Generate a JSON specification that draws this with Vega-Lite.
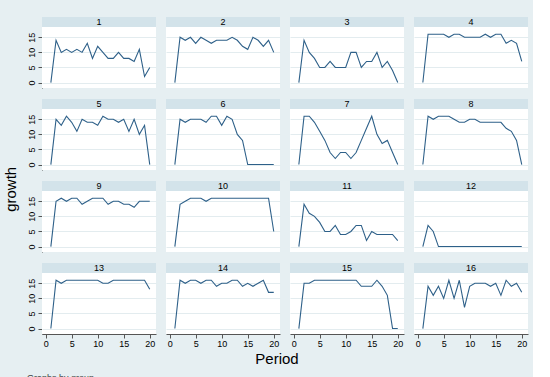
{
  "$schema": "https://vega.github.io/schema/vega-lite/v6.json",
  "background": "#e6eff2",
  "padding": {"left": 3, "top": 16, "right": 5, "bottom": 5},
  "title": {"text": "growth", "orient": "left", "anchor": "middle", "fontSize": 15, "font": "Liberation Sans", "fontWeight": "normal", "color": "#000000", "offset": 8, "dx": 10},
  "data": {"values": [
{"p":1,"t":1,"g":0},{"p":1,"t":2,"g":14},{"p":1,"t":3,"g":10},{"p":1,"t":4,"g":11},{"p":1,"t":5,"g":10},{"p":1,"t":6,"g":11},{"p":1,"t":7,"g":10},{"p":1,"t":8,"g":13},{"p":1,"t":9,"g":8},{"p":1,"t":10,"g":12},{"p":1,"t":11,"g":10},{"p":1,"t":12,"g":8},{"p":1,"t":13,"g":8},{"p":1,"t":14,"g":10},{"p":1,"t":15,"g":8},{"p":1,"t":16,"g":8},{"p":1,"t":17,"g":7},{"p":1,"t":18,"g":11},{"p":1,"t":19,"g":2},{"p":1,"t":20,"g":5},
{"p":2,"t":1,"g":0},{"p":2,"t":2,"g":15},{"p":2,"t":3,"g":14},{"p":2,"t":4,"g":15},{"p":2,"t":5,"g":13},{"p":2,"t":6,"g":15},{"p":2,"t":7,"g":14},{"p":2,"t":8,"g":13},{"p":2,"t":9,"g":14},{"p":2,"t":10,"g":14},{"p":2,"t":11,"g":14},{"p":2,"t":12,"g":15},{"p":2,"t":13,"g":14},{"p":2,"t":14,"g":12},{"p":2,"t":15,"g":11},{"p":2,"t":16,"g":15},{"p":2,"t":17,"g":14},{"p":2,"t":18,"g":12},{"p":2,"t":19,"g":14},{"p":2,"t":20,"g":10},
{"p":3,"t":1,"g":0},{"p":3,"t":2,"g":14},{"p":3,"t":3,"g":10},{"p":3,"t":4,"g":8},{"p":3,"t":5,"g":5},{"p":3,"t":6,"g":5},{"p":3,"t":7,"g":7},{"p":3,"t":8,"g":5},{"p":3,"t":9,"g":5},{"p":3,"t":10,"g":5},{"p":3,"t":11,"g":10},{"p":3,"t":12,"g":10},{"p":3,"t":13,"g":5},{"p":3,"t":14,"g":7},{"p":3,"t":15,"g":7},{"p":3,"t":16,"g":10},{"p":3,"t":17,"g":5},{"p":3,"t":18,"g":7},{"p":3,"t":19,"g":4},{"p":3,"t":20,"g":0},
{"p":4,"t":1,"g":0},{"p":4,"t":2,"g":16},{"p":4,"t":3,"g":16},{"p":4,"t":4,"g":16},{"p":4,"t":5,"g":16},{"p":4,"t":6,"g":15},{"p":4,"t":7,"g":16},{"p":4,"t":8,"g":16},{"p":4,"t":9,"g":15},{"p":4,"t":10,"g":15},{"p":4,"t":11,"g":15},{"p":4,"t":12,"g":15},{"p":4,"t":13,"g":16},{"p":4,"t":14,"g":15},{"p":4,"t":15,"g":16},{"p":4,"t":16,"g":16},{"p":4,"t":17,"g":13},{"p":4,"t":18,"g":14},{"p":4,"t":19,"g":13},{"p":4,"t":20,"g":7},
{"p":5,"t":1,"g":0},{"p":5,"t":2,"g":15},{"p":5,"t":3,"g":13},{"p":5,"t":4,"g":16},{"p":5,"t":5,"g":14},{"p":5,"t":6,"g":11},{"p":5,"t":7,"g":15},{"p":5,"t":8,"g":14},{"p":5,"t":9,"g":14},{"p":5,"t":10,"g":13},{"p":5,"t":11,"g":16},{"p":5,"t":12,"g":15},{"p":5,"t":13,"g":15},{"p":5,"t":14,"g":14},{"p":5,"t":15,"g":15},{"p":5,"t":16,"g":11},{"p":5,"t":17,"g":15},{"p":5,"t":18,"g":10},{"p":5,"t":19,"g":13},{"p":5,"t":20,"g":0},
{"p":6,"t":1,"g":0},{"p":6,"t":2,"g":15},{"p":6,"t":3,"g":14},{"p":6,"t":4,"g":15},{"p":6,"t":5,"g":15},{"p":6,"t":6,"g":15},{"p":6,"t":7,"g":14},{"p":6,"t":8,"g":16},{"p":6,"t":9,"g":16},{"p":6,"t":10,"g":13},{"p":6,"t":11,"g":16},{"p":6,"t":12,"g":15},{"p":6,"t":13,"g":10},{"p":6,"t":14,"g":8},{"p":6,"t":15,"g":0},{"p":6,"t":16,"g":0},{"p":6,"t":17,"g":0},{"p":6,"t":18,"g":0},{"p":6,"t":19,"g":0},{"p":6,"t":20,"g":0},
{"p":7,"t":1,"g":0},{"p":7,"t":2,"g":16},{"p":7,"t":3,"g":16},{"p":7,"t":4,"g":14},{"p":7,"t":5,"g":11},{"p":7,"t":6,"g":8},{"p":7,"t":7,"g":4},{"p":7,"t":8,"g":2},{"p":7,"t":9,"g":4},{"p":7,"t":10,"g":4},{"p":7,"t":11,"g":2},{"p":7,"t":12,"g":4},{"p":7,"t":13,"g":8},{"p":7,"t":14,"g":12},{"p":7,"t":15,"g":16},{"p":7,"t":16,"g":10},{"p":7,"t":17,"g":7},{"p":7,"t":18,"g":8},{"p":7,"t":19,"g":4},{"p":7,"t":20,"g":0},
{"p":8,"t":1,"g":0},{"p":8,"t":2,"g":16},{"p":8,"t":3,"g":15},{"p":8,"t":4,"g":16},{"p":8,"t":5,"g":16},{"p":8,"t":6,"g":16},{"p":8,"t":7,"g":15},{"p":8,"t":8,"g":14},{"p":8,"t":9,"g":14},{"p":8,"t":10,"g":15},{"p":8,"t":11,"g":15},{"p":8,"t":12,"g":14},{"p":8,"t":13,"g":14},{"p":8,"t":14,"g":14},{"p":8,"t":15,"g":14},{"p":8,"t":16,"g":14},{"p":8,"t":17,"g":12},{"p":8,"t":18,"g":11},{"p":8,"t":19,"g":8},{"p":8,"t":20,"g":0},
{"p":9,"t":1,"g":0},{"p":9,"t":2,"g":15},{"p":9,"t":3,"g":16},{"p":9,"t":4,"g":15},{"p":9,"t":5,"g":16},{"p":9,"t":6,"g":16},{"p":9,"t":7,"g":14},{"p":9,"t":8,"g":15},{"p":9,"t":9,"g":16},{"p":9,"t":10,"g":16},{"p":9,"t":11,"g":16},{"p":9,"t":12,"g":14},{"p":9,"t":13,"g":15},{"p":9,"t":14,"g":15},{"p":9,"t":15,"g":14},{"p":9,"t":16,"g":14},{"p":9,"t":17,"g":13},{"p":9,"t":18,"g":15},{"p":9,"t":19,"g":15},{"p":9,"t":20,"g":15},
{"p":10,"t":1,"g":0},{"p":10,"t":2,"g":14},{"p":10,"t":3,"g":15},{"p":10,"t":4,"g":16},{"p":10,"t":5,"g":16},{"p":10,"t":6,"g":16},{"p":10,"t":7,"g":15},{"p":10,"t":8,"g":16},{"p":10,"t":9,"g":16},{"p":10,"t":10,"g":16},{"p":10,"t":11,"g":16},{"p":10,"t":12,"g":16},{"p":10,"t":13,"g":16},{"p":10,"t":14,"g":16},{"p":10,"t":15,"g":16},{"p":10,"t":16,"g":16},{"p":10,"t":17,"g":16},{"p":10,"t":18,"g":16},{"p":10,"t":19,"g":16},{"p":10,"t":20,"g":5},
{"p":11,"t":1,"g":0},{"p":11,"t":2,"g":14},{"p":11,"t":3,"g":11},{"p":11,"t":4,"g":10},{"p":11,"t":5,"g":8},{"p":11,"t":6,"g":5},{"p":11,"t":7,"g":5},{"p":11,"t":8,"g":7},{"p":11,"t":9,"g":4},{"p":11,"t":10,"g":4},{"p":11,"t":11,"g":5},{"p":11,"t":12,"g":7},{"p":11,"t":13,"g":7},{"p":11,"t":14,"g":2},{"p":11,"t":15,"g":5},{"p":11,"t":16,"g":4},{"p":11,"t":17,"g":4},{"p":11,"t":18,"g":4},{"p":11,"t":19,"g":4},{"p":11,"t":20,"g":2},
{"p":12,"t":1,"g":0},{"p":12,"t":2,"g":7},{"p":12,"t":3,"g":5},{"p":12,"t":4,"g":0},{"p":12,"t":5,"g":0},{"p":12,"t":6,"g":0},{"p":12,"t":7,"g":0},{"p":12,"t":8,"g":0},{"p":12,"t":9,"g":0},{"p":12,"t":10,"g":0},{"p":12,"t":11,"g":0},{"p":12,"t":12,"g":0},{"p":12,"t":13,"g":0},{"p":12,"t":14,"g":0},{"p":12,"t":15,"g":0},{"p":12,"t":16,"g":0},{"p":12,"t":17,"g":0},{"p":12,"t":18,"g":0},{"p":12,"t":19,"g":0},{"p":12,"t":20,"g":0},
{"p":13,"t":1,"g":0},{"p":13,"t":2,"g":16},{"p":13,"t":3,"g":15},{"p":13,"t":4,"g":16},{"p":13,"t":5,"g":16},{"p":13,"t":6,"g":16},{"p":13,"t":7,"g":16},{"p":13,"t":8,"g":16},{"p":13,"t":9,"g":16},{"p":13,"t":10,"g":16},{"p":13,"t":11,"g":15},{"p":13,"t":12,"g":15},{"p":13,"t":13,"g":16},{"p":13,"t":14,"g":16},{"p":13,"t":15,"g":16},{"p":13,"t":16,"g":16},{"p":13,"t":17,"g":16},{"p":13,"t":18,"g":16},{"p":13,"t":19,"g":16},{"p":13,"t":20,"g":13},
{"p":14,"t":1,"g":0},{"p":14,"t":2,"g":16},{"p":14,"t":3,"g":15},{"p":14,"t":4,"g":16},{"p":14,"t":5,"g":16},{"p":14,"t":6,"g":15},{"p":14,"t":7,"g":16},{"p":14,"t":8,"g":16},{"p":14,"t":9,"g":14},{"p":14,"t":10,"g":15},{"p":14,"t":11,"g":15},{"p":14,"t":12,"g":16},{"p":14,"t":13,"g":16},{"p":14,"t":14,"g":14},{"p":14,"t":15,"g":15},{"p":14,"t":16,"g":14},{"p":14,"t":17,"g":15},{"p":14,"t":18,"g":16},{"p":14,"t":19,"g":12},{"p":14,"t":20,"g":12},
{"p":15,"t":1,"g":0},{"p":15,"t":2,"g":15},{"p":15,"t":3,"g":15},{"p":15,"t":4,"g":16},{"p":15,"t":5,"g":16},{"p":15,"t":6,"g":16},{"p":15,"t":7,"g":16},{"p":15,"t":8,"g":16},{"p":15,"t":9,"g":16},{"p":15,"t":10,"g":16},{"p":15,"t":11,"g":16},{"p":15,"t":12,"g":16},{"p":15,"t":13,"g":14},{"p":15,"t":14,"g":14},{"p":15,"t":15,"g":14},{"p":15,"t":16,"g":16},{"p":15,"t":17,"g":14},{"p":15,"t":18,"g":11},{"p":15,"t":19,"g":0},{"p":15,"t":20,"g":0},
{"p":16,"t":1,"g":0},{"p":16,"t":2,"g":14},{"p":16,"t":3,"g":11},{"p":16,"t":4,"g":14},{"p":16,"t":5,"g":10},{"p":16,"t":6,"g":16},{"p":16,"t":7,"g":10},{"p":16,"t":8,"g":16},{"p":16,"t":9,"g":7},{"p":16,"t":10,"g":14},{"p":16,"t":11,"g":15},{"p":16,"t":12,"g":15},{"p":16,"t":13,"g":15},{"p":16,"t":14,"g":14},{"p":16,"t":15,"g":15},{"p":16,"t":16,"g":11},{"p":16,"t":17,"g":16},{"p":16,"t":18,"g":14},{"p":16,"t":19,"g":15},{"p":16,"t":20,"g":12}
  ]},
  "facet": {"field": "p", "type": "ordinal", "title": "Period", "header": {"labels": false, "labelExpr": "''", "labelFontSize": 1, "labelPadding": 0, "titleOrient": "bottom", "titleFontSize": 15, "titleFont": "Liberation Sans", "titleFontWeight": "normal", "titleColor": "#000000", "titlePadding": 4}},
  "columns": 4,
  "bounds": "flush",
  "spacing": {"row": 21, "column": 10},
  "spec": {
    "width": 114,
    "height": 61,
    "layer": [
      {
        "transform": [{"filter": "datum.t == 1"}],
        "mark": {"type": "rect", "color": "#d3e3ea"},
        "encoding": {
          "x": {"datum": -0.7, "type": "quantitative", "scale": {"domain": [-0.7, 21.2], "nice": false, "zero": false},
                "axis": {"title": null, "values": [0, 5, 10, 15, 20], "grid": false, "tickSize": 4, "labelFontSize": 9, "labelPadding": 1, "domainColor": "#555555", "tickColor": "#555555", "labelColor": "#000000", "labelFont": "Liberation Sans"}},
          "x2": {"datum": 21.2},
          "y": {"datum": 18.4, "type": "quantitative", "scale": {"domain": [-1.8, 18.4], "nice": false, "zero": false},
                "axis": {"title": null, "values": [0, 5, 10, 15], "grid": true, "gridColor": "#e3ecef", "tickSize": 4, "labelFontSize": 9, "labelPadding": 2, "labelAngle": -90, "labelAlign": "center", "labelBaseline": "bottom", "domainColor": "#555555", "tickColor": "#555555", "labelColor": "#000000", "labelFont": "Liberation Sans"}},
          "y2": {"datum": 21.7}
        }
      },
      {
        "transform": [{"filter": "datum.t == 1"}],
        "mark": {"type": "text", "fontSize": 9, "color": "#000000", "align": "center", "baseline": "middle", "font": "Liberation Sans"},
        "encoding": {
          "x": {"datum": 10.25, "type": "quantitative", "scale": {"domain": [-0.7, 21.2], "nice": false, "zero": false},
                "axis": {"title": null, "values": [0, 5, 10, 15, 20], "grid": false, "tickSize": 4, "labelFontSize": 9, "labelPadding": 1, "domainColor": "#555555", "tickColor": "#555555", "labelColor": "#000000", "labelFont": "Liberation Sans"}},
          "y": {"datum": 20.05, "type": "quantitative", "scale": {"domain": [-1.8, 18.4], "nice": false, "zero": false},
                "axis": {"title": null, "values": [0, 5, 10, 15], "grid": true, "gridColor": "#e3ecef", "tickSize": 4, "labelFontSize": 9, "labelPadding": 2, "labelAngle": -90, "labelAlign": "center", "labelBaseline": "bottom", "domainColor": "#555555", "tickColor": "#555555", "labelColor": "#000000", "labelFont": "Liberation Sans"}},
          "text": {"field": "p", "type": "nominal"}
        }
      },
      {
        "transform": [{"filter": "datum.t == 1 && datum.p == 13"}],
        "mark": {"type": "text", "fontSize": 9, "color": "#444444", "align": "left", "baseline": "top", "font": "Liberation Sans", "text": "Graphs by group"},
        "encoding": {
          "x": {"datum": -3.6, "type": "quantitative", "scale": {"domain": [-0.7, 21.2], "nice": false, "zero": false},
                "axis": {"title": null, "values": [0, 5, 10, 15, 20], "grid": false, "tickSize": 4, "labelFontSize": 9, "labelPadding": 1, "domainColor": "#555555", "tickColor": "#555555", "labelColor": "#000000", "labelFont": "Liberation Sans"}},
          "y": {"datum": -14.9, "type": "quantitative", "scale": {"domain": [-1.8, 18.4], "nice": false, "zero": false},
                "axis": {"title": null, "values": [0, 5, 10, 15], "grid": true, "gridColor": "#e3ecef", "tickSize": 4, "labelFontSize": 9, "labelPadding": 2, "labelAngle": -90, "labelAlign": "center", "labelBaseline": "bottom", "domainColor": "#555555", "tickColor": "#555555", "labelColor": "#000000", "labelFont": "Liberation Sans"}}
        }
      },
      {
        "mark": {"type": "line", "color": "#2e6089", "strokeWidth": 1.1},
        "encoding": {
          "x": {"field": "t", "type": "quantitative", "scale": {"domain": [-0.7, 21.2], "nice": false, "zero": false},
                "axis": {"title": null, "values": [0, 5, 10, 15, 20], "grid": false, "tickSize": 4, "labelFontSize": 9, "labelPadding": 1, "domainColor": "#555555", "tickColor": "#555555", "labelColor": "#000000", "labelFont": "Liberation Sans"}},
          "y": {"field": "g", "type": "quantitative", "scale": {"domain": [-1.8, 18.4], "nice": false, "zero": false},
                "axis": {"title": null, "values": [0, 5, 10, 15], "grid": true, "gridColor": "#e3ecef", "tickSize": 4, "labelFontSize": 9, "labelPadding": 2, "labelAngle": -90, "labelAlign": "center", "labelBaseline": "bottom", "domainColor": "#555555", "tickColor": "#555555", "labelColor": "#000000", "labelFont": "Liberation Sans"}}
        }
      }
    ]
  },
  "config": {"view": {"fill": "white", "stroke": null}, "font": "Liberation Sans", "header": {"labels": false}}
}
